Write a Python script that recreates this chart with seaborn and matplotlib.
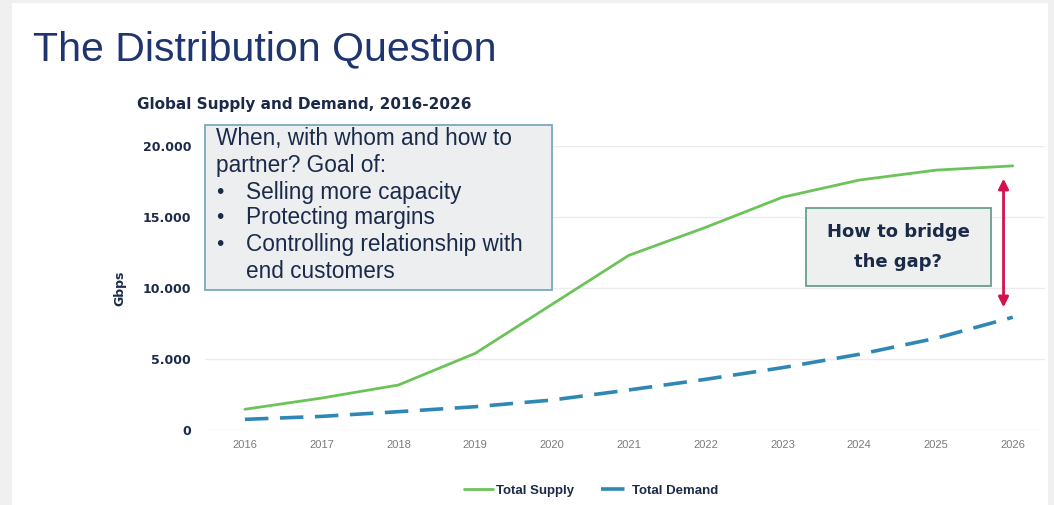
import matplotlib
matplotlib.use("Agg")
import matplotlib.pyplot as plt
from matplotlib.patches import Rectangle
from matplotlib.ticker import FuncFormatter
import seaborn as sns
import pandas as pd

# Data (Gbps)
years = [2016, 2017, 2018, 2019, 2020, 2021, 2022, 2023, 2024, 2025, 2026]
total_supply = [1460, 2250, 3170, 5400, 8850, 12300, 14270, 16390, 17600, 18300, 18600]
total_demand = [750, 960, 1290, 1640, 2110, 2820, 3570, 4390, 5330, 6460, 7940]
y_ticks = [0, 5000, 10000, 15000, 20000]

NAVY = "#1f3570"
TEXT_DARK = "#1c2a4a"
GREEN = "#6cc35a"
BLUE = "#2f87b4"
RED = "#d3124f"

sns.set_theme(style="white")
plt.rcParams["font.family"] = ["Liberation Sans", "DejaVu Sans"]

W, H = 1054, 505
fig = plt.figure(figsize=(W / 100, H / 100), dpi=100, facecolor="#f0f0f0")


def fx(px):
    return px / W


def fy(py):
    return 1 - py / H


# white slide area behind everything
fig.patches.append(Rectangle((fx(12), 0), fx(1048 - 12), 1 - 3 / H,
                             transform=fig.transFigure, facecolor="white",
                             edgecolor="none", zorder=-5))

ax_left, ax_right, ax_top, ax_bottom = 205, 1045, 146, 430
ax = fig.add_axes([fx(ax_left), fy(ax_bottom), fx(ax_right - ax_left),
                   (ax_bottom - ax_top) / H])
ax.set_facecolor("none")

df_s = pd.DataFrame({"year": years, "value": total_supply})
df_d = pd.DataFrame({"year": years, "value": total_demand})
sns.lineplot(data=df_s, x="year", y="value", ax=ax, color=GREEN, linewidth=2.0,
             label="Total Supply", zorder=3)
sns.lineplot(data=df_d, x="year", y="value", ax=ax, color=BLUE, linewidth=2.6,
             label="Total Demand", zorder=3)
ax.lines[1].set_dashes([6.5, 3.2])

ax.set_xlim(2015.48, 2026.42)
ax.set_ylim(0, 20000)
ax.set_yticks(y_ticks)
ax.yaxis.set_major_formatter(FuncFormatter(lambda v, p: f"{int(v):,}".replace(",", ".")))
ax.set_xticks(years)
ax.grid(axis="y", color="#ececec", linewidth=1.0)
ax.grid(axis="x", visible=False)
for s in ax.spines.values():
    s.set_visible(False)
ax.tick_params(axis="y", length=0, pad=10, labelcolor=TEXT_DARK)
for t in ax.get_yticklabels():
    t.set_fontweight("bold")
    t.set_family(["DejaVu Sans"])
    t.set_fontsize(9)
ax.tick_params(axis="x", length=0, pad=7, labelcolor="#7a7a7a")
for t in ax.get_xticklabels():
    t.set_fontsize(8)
ax.set_xlabel("")
ax.set_ylabel("Gbps", fontsize=9, fontweight="bold", color=TEXT_DARK, labelpad=12,
              family=["DejaVu Sans"])

leg = ax.legend(loc="upper center", bbox_to_anchor=(0.46, -0.15), ncol=2, frameon=False,
                handlelength=2.2, columnspacing=2.0, handletextpad=0.2,
                prop={"weight": "bold", "size": 9.5})
for t in leg.get_texts():
    t.set_color(TEXT_DARK)

# Titles
fig.text(fx(33), fy(49), "The Distribution Question", fontsize=29.6, color=NAVY,
         va="center", ha="left")
fig.text(fx(137), fy(104), "Global Supply and Demand, 2016-2026", fontsize=11,
         fontweight="bold", color=TEXT_DARK, va="center", ha="left",
         family=["DejaVu Sans"])

# Question box
fig.patches.append(Rectangle((fx(205), fy(290)), fx(552 - 205), (290 - 125) / H,
                             transform=fig.transFigure, facecolor="#eceef0",
                             edgecolor="#79a9bb", linewidth=1.3, zorder=4))
q_lines = [("", "When, with whom and how to", 139),
           ("", "partner? Goal of:", 165),
           ("\u2022", "Selling more capacity", 192),
           ("\u2022", "Protecting margins", 218),
           ("\u2022", "Controlling relationship with", 244),
           ("", "end customers", 271)]
for bullet, text, y in q_lines:
    x0 = 216 if bullet == "" and y < 180 else 246
    if bullet:
        fig.text(fx(216), fy(y), bullet, fontsize=15, color=TEXT_DARK,
                 va="center", ha="left", zorder=5)
    fig.text(fx(x0), fy(y), text, fontsize=16.3, color=TEXT_DARK,
             va="center", ha="left", zorder=5)

# Gap box
fig.patches.append(Rectangle((fx(806), fy(286)), fx(991 - 806), (286 - 208) / H,
                             transform=fig.transFigure, facecolor="#edf0ee",
                             edgecolor="#6a9e8c", linewidth=1.3, zorder=4))
fig.text(fx(898), fy(232), "How to bridge", fontsize=13, fontweight="bold",
         color=TEXT_DARK, va="center", ha="center", zorder=5, family=["DejaVu Sans"])
fig.text(fx(898), fy(262), "the gap?", fontsize=13, fontweight="bold",
         color=TEXT_DARK, va="center", ha="center", zorder=5, family=["DejaVu Sans"])

# Gap arrow between the two series in the final year
gx = years[-1] - 0.12
ax.annotate("", xy=(gx, total_supply[-1] - 700), xytext=(gx, total_demand[-1] + 500),
            arrowprops=dict(arrowstyle="<|-|>", color=RED, lw=2.0, mutation_scale=15),
            zorder=6)

fig.savefig("out.png", dpi=100, facecolor=fig.get_facecolor())
